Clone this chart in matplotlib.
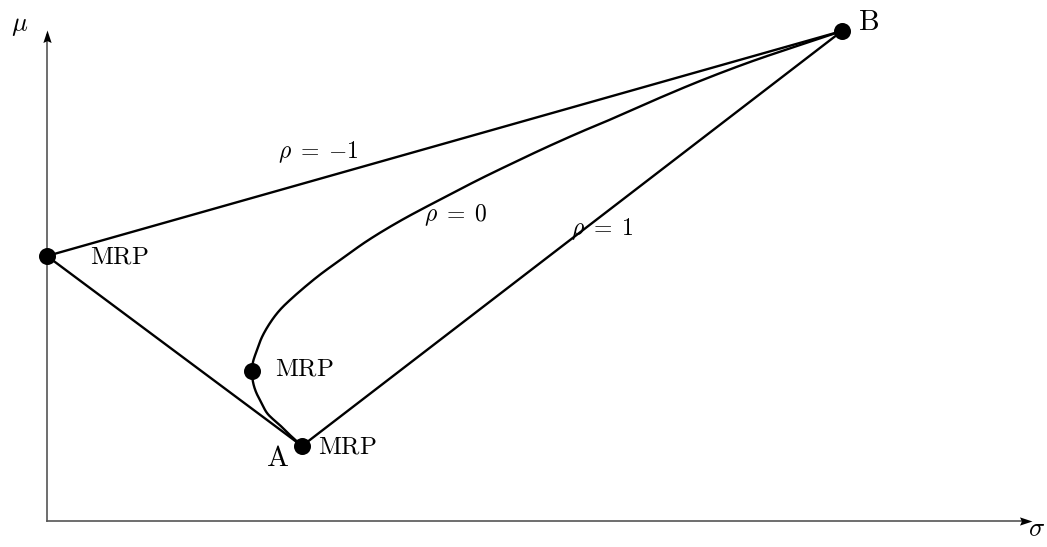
import numpy as np
import matplotlib
matplotlib.use('Agg')
import matplotlib.pyplot as plt

plt.rcParams['mathtext.fontset'] = 'cm'

# asset points (sigma, mu)
point_a = (2.55, 0.75)
point_b = (7.95, 4.90)
mrp_neg = (0.0, 2.65)   # minimum risk portfolio, rho = -1
mrp_zero = (2.05, 1.50)  # minimum risk portfolio, rho = 0

# rho = 0 frontier (from A through MRP up to B)
curve_sigma = [2.55, 2.45, 2.36, 2.28, 2.20, 2.14, 2.09, 2.06, 2.05, 2.06, 2.10,
               2.15, 2.23, 2.32, 2.43, 2.70, 2.96, 3.20, 3.53, 4.00, 4.33, 4.66,
               5.00, 5.36, 5.53, 6.03, 6.53, 7.03, 7.53, 7.95]
curve_mu = [0.75, 0.84, 0.93, 1.00, 1.08, 1.19, 1.29, 1.39, 1.50, 1.59, 1.71,
            1.84, 1.98, 2.10, 2.21, 2.44, 2.63, 2.80, 3.00, 3.25, 3.42, 3.58,
            3.74, 3.90, 3.97, 4.19, 4.40, 4.59, 4.76, 4.90]


def smooth(xs, ys, n=20):
    # centripetal catmull-rom through the given points, only for drawing
    p = np.column_stack([xs, ys]).astype(float)
    p = np.vstack([2 * p[0] - p[1], p, 2 * p[-1] - p[-2]])
    out = []
    for i in range(1, len(p) - 2):
        p0, p1, p2, p3 = p[i - 1], p[i], p[i + 1], p[i + 2]
        t0 = 0.0
        t1 = t0 + np.linalg.norm(p1 - p0) ** 0.5
        t2 = t1 + np.linalg.norm(p2 - p1) ** 0.5
        t3 = t2 + np.linalg.norm(p3 - p2) ** 0.5
        t = np.linspace(t1, t2, n)[:, None]
        a1 = (t1 - t) / (t1 - t0) * p0 + (t - t0) / (t1 - t0) * p1
        a2 = (t2 - t) / (t2 - t1) * p1 + (t - t1) / (t2 - t1) * p2
        a3 = (t3 - t) / (t3 - t2) * p2 + (t - t2) / (t3 - t2) * p3
        b1 = (t2 - t) / (t2 - t0) * a1 + (t - t0) / (t2 - t0) * a2
        b2 = (t3 - t) / (t3 - t1) * a2 + (t - t1) / (t3 - t1) * a3
        c = (t2 - t) / (t2 - t1) * b1 + (t - t1) / (t2 - t1) * b2
        out.append(c if i == 1 else c[1:])
    out = np.vstack(out)
    return out[:, 0], out[:, 1]


fig = plt.figure(figsize=(10.47, 5.47), dpi=100)
ax = fig.add_axes([0, 0, 1, 1])
ax.set_xlim(-0.47, 10.0)
ax.set_ylim(-0.26, 5.21)
ax.axis('off')

# axes with arrow heads
head = [(0, 0), (-1, 0.33), (-0.85, 0), (-1, -0.33), (0, 0)]
ax.plot([0, 9.8], [0, 0], color='#555555', lw=1.2, zorder=1)
ax.plot([0, 0], [0, 4.86], color='#555555', lw=1.2, zorder=1)
ax.plot(9.85, 0, marker=head, markersize=18, color='black', mew=0, zorder=2)
ax.plot(0, 4.91, marker=[(y, x) for x, y in head], markersize=18,
        color='black', mew=0, zorder=2)

lw = 1.7
# rho = -1
ax.plot([point_a[0], mrp_neg[0], point_b[0]], [point_a[1], mrp_neg[1], point_b[1]],
        color='black', lw=lw, zorder=3)
# rho = 1
ax.plot([point_a[0], point_b[0]], [point_a[1], point_b[1]], color='black', lw=lw, zorder=3)
# rho = 0
cx, cy = smooth(curve_sigma, curve_mu)
ax.plot(cx, cy, color='black', lw=lw, zorder=3, solid_joinstyle='round')

pts = [point_a, point_b, mrp_neg, mrp_zero]
ax.scatter([p[0] for p in pts], [p[1] for p in pts], s=150, color='black', zorder=4,
           linewidths=0)

fs = 17
ax.text(0.43, 2.64, r'$\mathrm{MRP}$', fontsize=18, va='center', ha='left')
ax.text(2.28, 1.52, r'$\mathrm{MRP}$', fontsize=18, va='center', ha='left')
ax.text(2.71, 0.75, r'$\mathrm{MRP}$', fontsize=18, va='center', ha='left')
ax.text(2.31, 0.63, r'$\mathrm{A}$', fontsize=21, va='center', ha='center')
ax.text(8.21, 4.99, r'$\mathrm{B}$', fontsize=21, va='center', ha='center')
ax.text(2.71, 3.69, r'$\rho\;=\;{-}1$', fontsize=fs, va='center', ha='center')
ax.text(4.09, 3.06, r'$\rho\;=\;0$', fontsize=fs, va='center', ha='center')
ax.text(5.55, 2.92, r'$\rho\;=\;1$', fontsize=fs, va='center', ha='center')
ax.text(-0.27, 4.96, r'$\mu$', fontsize=19, va='center', ha='center')
ax.text(9.90, -0.085, r'$\sigma$', fontsize=19, va='center', ha='center')

fig.savefig('out.png', dpi=100)
